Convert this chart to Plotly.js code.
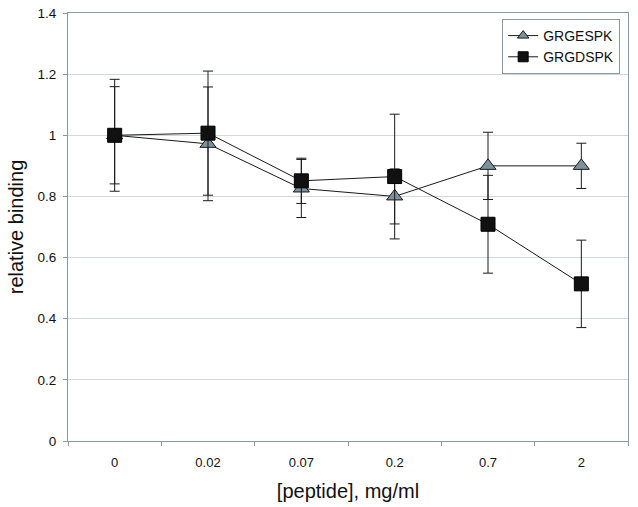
<!DOCTYPE html>
<html>
<head>
<meta charset="utf-8">
<script src="https://cdn.plot.ly/plotly-3.0.1.min.js"></script>
<style>html,body{margin:0;padding:0;background:#fff;}#chart{width:638px;height:507px;}</style>
</head>
<body>
<div id="chart"></div>
<script>
const categories = ["0", "0.02", "0.07", "0.2", "0.7", "2"];
const esName = "GRGESPK";
const esValues = [1.0, 0.972, 0.826, 0.80, 0.90, 0.90];
const esErrors = [0.159, 0.186, 0.095, 0.09, 0.11, 0.074];
const dsName = "GRGDSPK";
const dsValues = [1.0, 1.007, 0.851, 0.865, 0.709, 0.514];
const dsErrors = [0.183, 0.203, 0.074, 0.204, 0.16, 0.143];

const font = "Liberation Sans, Arial, sans-serif";
const esMarker = {symbol: "triangle-up", color: "#7d919c", line: {color: "#1a1a1a", width: 1}};
const dsMarker = {symbol: "square", color: "#111111", line: {color: "#000", width: 1}};
const traces = [
  {
    x: categories, y: esValues, name: esName, type: "scatter", mode: "lines+markers",
    showlegend: false,
    line: {color: "#1a1a1a", width: 1},
    marker: Object.assign({size: 14}, esMarker),
    error_y: {type: "data", array: esErrors, visible: true, color: "#1a1a1a", thickness: 1, width: 5}
  },
  {
    x: categories, y: dsValues, name: dsName, type: "scatter", mode: "lines+markers",
    showlegend: false,
    line: {color: "#1a1a1a", width: 1},
    marker: Object.assign({size: 14}, dsMarker),
    error_y: {type: "data", array: dsErrors, visible: true, color: "#1a1a1a", thickness: 1, width: 5}
  },
  {
    x: [null], y: [null], name: esName, type: "scatter", mode: "lines+markers",
    line: {color: "#1a1a1a", width: 1}, marker: Object.assign({size: 10}, esMarker)
  },
  {
    x: [null], y: [null], name: dsName, type: "scatter", mode: "lines+markers",
    line: {color: "#1a1a1a", width: 1}, marker: Object.assign({size: 10}, dsMarker)
  }
];

const layout = {
  width: 638, height: 507,
  margin: {l: 68, r: 10, t: 13, b: 66},
  paper_bgcolor: "#fff", plot_bgcolor: "#fff",
  font: {family: font, size: 13, color: "#111"},
  showlegend: true,
  legend: {
    x: 0.986, y: 0.986, xanchor: "right", yanchor: "top",
    bgcolor: "#fff", bordercolor: "#8a9aa4", borderwidth: 1,
    font: {family: font, size: 14, color: "#111"},
    tracegroupgap: 0, itemwidth: 30
  },
  xaxis: {
    type: "category", range: [-0.5, 5.5],
    showgrid: false, zeroline: false,
    showline: true, linecolor: "#8a9aa4", linewidth: 1, mirror: true,
    ticks: "outside", tickson: "boundaries", ticklen: 4, tickcolor: "#8a9aa4",
    ticklabelstandoff: 9,
    tickfont: {family: font, size: 13, color: "#111"},
    title: {text: "[peptide], mg/ml", font: {family: font, size: 20, color: "#111"}, standoff: 15}
  },
  yaxis: {
    range: [0, 1.4], dtick: 0.2, tick0: 0,
    showgrid: true, gridcolor: "#cfd8dc", gridwidth: 1, zeroline: false,
    showline: true, linecolor: "#8a9aa4", linewidth: 1, mirror: true,
    ticks: "outside", ticklen: 4, tickcolor: "#8a9aa4",
    ticklabelstandoff: 4,
    tickfont: {family: font, size: 13.5, color: "#111"},
    title: {text: "relative binding", font: {family: font, size: 20, color: "#111"}, standoff: 8}
  }
};

Plotly.newPlot("chart", traces, layout, {displayModeBar: false, staticPlot: true});
</script>
</body>
</html>
